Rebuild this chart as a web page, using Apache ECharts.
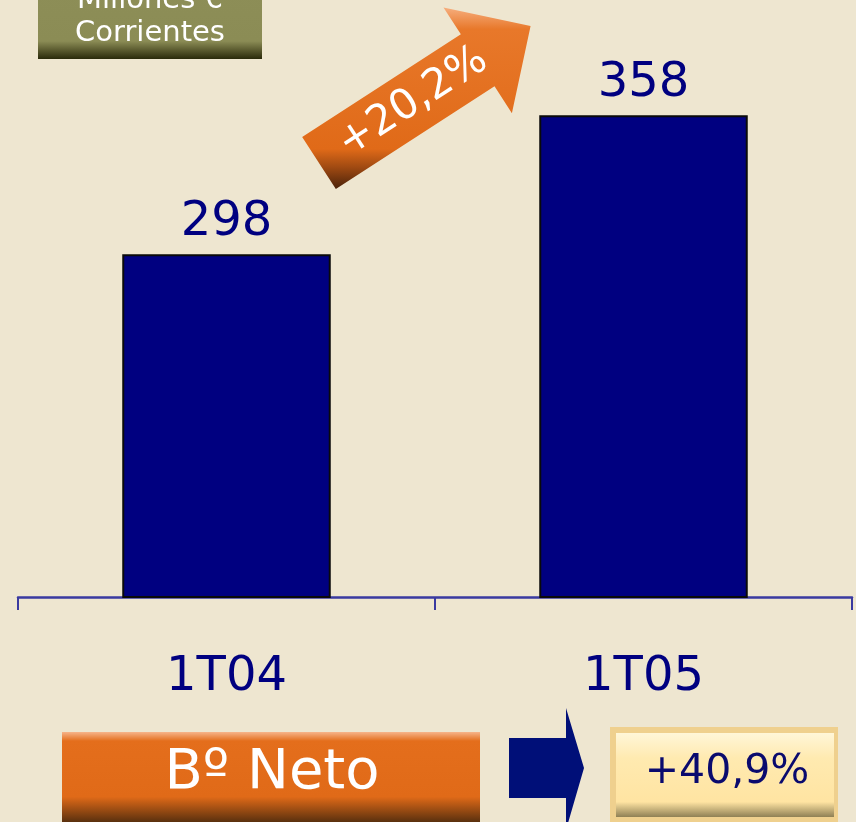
<!DOCTYPE html>
<html>
<head>
<meta charset="utf-8">
<script src="https://cdn.jsdelivr.net/npm/echarts@6/dist/echarts.min.js"></script>
<style>
    html, body { margin: 0; padding: 0; background: #eee6d0; }
    #chart { width: 856px; height: 822px; }
</style>
</head>
<body>
<div id="chart"></div>
<script>
// data
const categories = ['1T04', '1T05'];
const values = [298, 358];
const unitLines = ['Millones €', 'Corrientes'];
const growthLabel = '+20,2%';
const titleLabel = 'Bº Neto';
const resultLabel = '+40,9%';

const NAVY = '#000080';
const FONT = '"DejaVu Sans", Verdana, sans-serif';

// orange arrow, drawn along a rotated axis
const arrowAngle = 32.9 * Math.PI / 180;
const arrowBody = 31, arrowHead = 63, arrowNeck = 189, arrowLen = 252;
const arrowX = 319, arrowY = 163;
const rot = (u, v) => [
    arrowX + u * Math.cos(arrowAngle) + v * Math.sin(arrowAngle),
    arrowY - u * Math.sin(arrowAngle) + v * Math.cos(arrowAngle),
];
const arrowPoints = [
    [0, -arrowBody], [arrowNeck, -arrowBody], [arrowNeck, -arrowHead],
    [arrowLen, 0],
    [arrowNeck, arrowHead], [arrowNeck, arrowBody], [0, arrowBody],
].map(p => rot(p[0], p[1]));
const textPos = rot(112, 0);

const centered = (text, size, color) => ({
    text: text,
    fill: color,
    font: size + 'px ' + FONT,
    align: 'center',
    verticalAlign: 'middle',
    textAlign: 'center',
    textVerticalAlign: 'middle',
});

const myChart = echarts.init(document.getElementById('chart'));

const option = {
    backgroundColor: '#eee6d0',
    animation: false,
    grid: {
        left: 18,
        right: 4,
        top: 18,
        bottom: 225,
    },
    xAxis: {
        type: 'category',
        data: categories,
        axisLine: {
            show: true,
            lineStyle: { color: '#3a3aa0', width: 2.5 },
        },
        axisTick: {
            show: true,
            length: 13,
            lineStyle: { color: '#3a3aa0', width: 2 },
        },
        axisLabel: {
            color: NAVY,
            fontSize: 48,
            fontFamily: FONT,
            margin: 57,
        },
    },
    yAxis: {
        type: 'value',
        min: 150,
        max: 400,
        show: false,
        splitLine: { show: false },
    },
    series: [
        {
            type: 'bar',
            data: values,
            barWidth: '50%',
            itemStyle: {
                color: NAVY,
                borderColor: '#0a0a0a',
                borderWidth: 2,
            },
            label: {
                show: true,
                position: 'top',
                distance: 8,
                color: NAVY,
                fontSize: 48,
                fontFamily: FONT,
            },
        },
    ],
    graphic: [
        // unit box, top left (partly cut off)
        {
            type: 'rect',
            shape: { x: 38, y: -40, width: 224, height: 99 },
            style: {
                fill: new echarts.graphic.LinearGradient(0, 0, 0, 1, [
                    { offset: 0, color: '#8e8f58' },
                    { offset: 0.82, color: '#8b8c55' },
                    { offset: 1, color: '#2a2a0a' },
                ]),
            },
        },
        { type: 'text', x: 150, y: 0, style: centered(unitLines[0], 29, '#fff') },
        { type: 'text', x: 150, y: 33, style: centered(unitLines[1], 29, '#fff') },
        // growth arrow
        {
            type: 'polygon',
            shape: { points: arrowPoints },
            style: {
                fill: new echarts.graphic.LinearGradient(0, 0, 0, 1, [
                    { offset: 0, color: '#f6ae7e' },
                    { offset: 0.12, color: '#e8782a' },
                    { offset: 0.78, color: '#e06a18' },
                    { offset: 0.88, color: '#a04a12' },
                    { offset: 1, color: '#4a220a' },
                ]),
            },
        },
        {
            type: 'text',
            x: textPos[0],
            y: textPos[1],
            rotation: arrowAngle,
            style: centered(growthLabel, 42, '#fff'),
        },
        // bottom title box
        {
            type: 'rect',
            shape: { x: 62, y: 732, width: 418, height: 90 },
            style: {
                fill: new echarts.graphic.LinearGradient(0, 0, 0, 1, [
                    { offset: 0, color: '#f6b48a' },
                    { offset: 0.1, color: '#e46e1c' },
                    { offset: 0.72, color: '#e06a18' },
                    { offset: 1, color: '#5a300e' },
                ]),
            },
        },
        { type: 'text', x: 272, y: 773, style: centered(titleLabel, 56, '#fff') },
        // navy arrow
        {
            type: 'polygon',
            shape: {
                points: [[509, 738], [566, 738], [566, 708], [584, 768], [566, 830], [566, 798], [509, 798]],
            },
            style: { fill: '#000f78' },
        },
        // result box
        {
            type: 'rect',
            shape: { x: 610, y: 727, width: 228, height: 100 },
            style: { fill: '#efd08e' },
        },
        {
            type: 'rect',
            shape: { x: 616, y: 733, width: 218, height: 84 },
            style: {
                fill: new echarts.graphic.LinearGradient(0, 0, 0, 1, [
                    { offset: 0, color: '#fff6d8' },
                    { offset: 0.3, color: '#ffeab0' },
                    { offset: 0.82, color: '#ffe4a2' },
                    { offset: 1, color: '#8f8055' },
                ]),
            },
        },
        { type: 'text', x: 727, y: 772, style: centered(resultLabel, 41, '#0a0a6e') },
    ],
};

myChart.setOption(option);
window.addEventListener('resize', () => myChart.resize());
</script>
</body>
</html>
